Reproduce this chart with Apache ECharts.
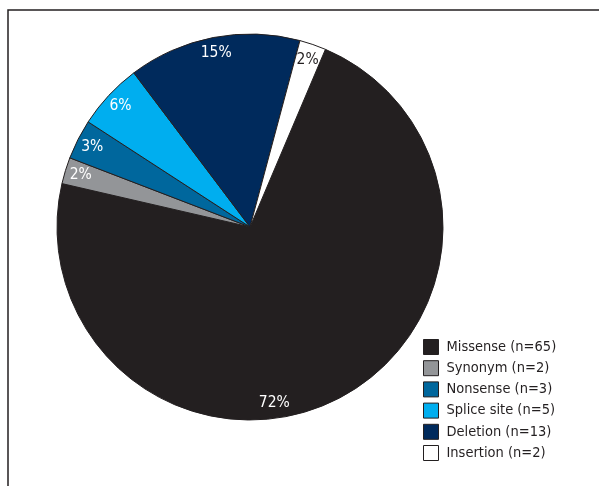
<!DOCTYPE html>
<html>
<head>
<meta charset="utf-8">
<script src="https://cdn.jsdelivr.net/npm/echarts@6/dist/echarts.min.js"></script>
<style>
html,body{margin:0;padding:0;background:#fff;}
#chart{width:599px;height:486px;}
</style>
</head>
<body>
<div id="chart"></div>
<script>
const categories = ['Missense', 'Synonym', 'Nonsense', 'Splice site', 'Deletion', 'Insertion'];
const counts = [65, 2, 3, 5, 13, 2];
const colors = ['#231f20', '#939598', '#00679d', '#00aeef', '#002a5c', '#ffffff'];
const labelColors = ['#ffffff', '#ffffff', '#ffffff', '#ffffff', '#ffffff', '#231f20'];

const FONT = '"DejaVu Sans Condensed", "Liberation Sans Narrow", "Liberation Sans", sans-serif';

const legendNames = categories.map((c, i) => c + ' (n=' + counts[i] + ')');

const mainData = categories.map((c, i) => ({
  name: legendNames[i],
  value: counts[i],
  itemStyle: { color: colors[i] }
}));

const labelData = categories.map((c, i) => {
  const item = {
    name: legendNames[i],
    value: counts[i],
    label: { color: labelColors[i] }
  };
  if (i === 0) item.label.offset = [-56, 18];
  return item;
});

const chart = echarts.init(document.getElementById('chart'), null, { renderer: 'canvas' });
chart.setOption({
  animation: false,
  backgroundColor: '#ffffff',
  color: colors,
  graphic: [
    {
      type: 'polyline',
      shape: { points: [[8, 486], [8, 10], [599, 10]] },
      style: { stroke: '#231f20', lineWidth: 1.5, fill: null }
    }
  ],
  legend: {
    orient: 'vertical',
    left: 423,
    top: 339,
    padding: 0,
    itemWidth: 15,
    itemHeight: 15,
    itemGap: 5.2,
    icon: 'rect',
    data: legendNames,
    textStyle: { fontFamily: FONT, fontSize: 14.5, color: '#231f20', lineHeight: 15, height: 15, padding: [0, 0, 0, 3] },
    itemStyle: { borderColor: '#231f20', borderWidth: 1 },
    selectedMode: false
  },
  series: [
    {
      type: 'pie',
      center: [250, 227],
      radius: [0, 193],
      startAngle: 67,
      clockwise: true,
      silent: true,
      avoidLabelOverlap: false,
      label: { show: false },
      labelLine: { show: false },
      itemStyle: { borderColor: '#231f20', borderWidth: 1 },
      data: mainData
    },
    {
      type: 'pie',
      center: [250, 227],
      radius: [155, 193],
      startAngle: 67,
      clockwise: true,
      silent: true,
      avoidLabelOverlap: false,
      percentPrecision: 0,
      itemStyle: { color: 'rgba(0,0,0,0)', borderWidth: 0 },
      label: {
        show: true,
        position: 'inside',
        formatter: '{d}%',
        fontFamily: FONT,
        fontSize: 15.5,
        color: '#ffffff'
      },
      labelLine: { show: false },
      data: labelData
    }
  ]
});
</script>
</body>
</html>
